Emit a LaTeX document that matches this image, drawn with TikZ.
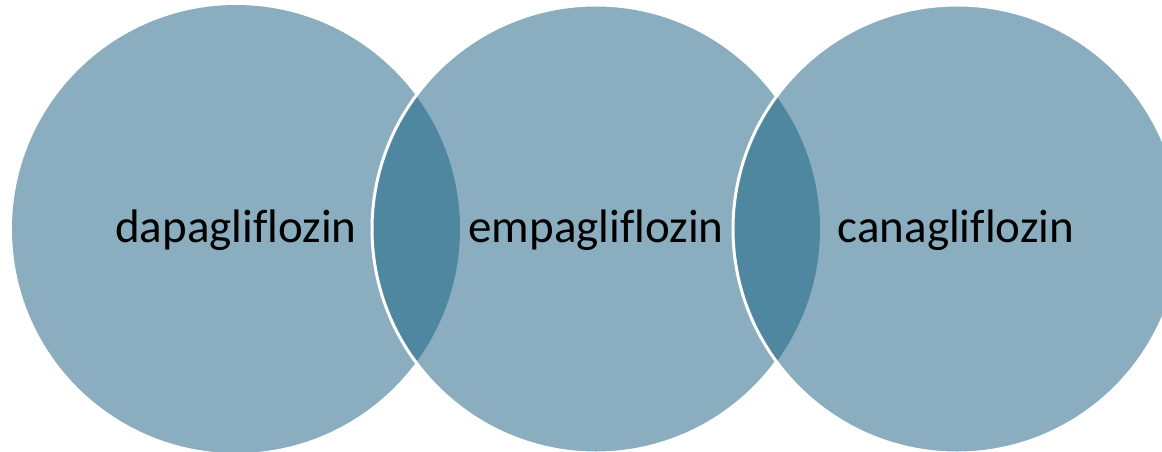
\documentclass[tikz,border=0pt]{standalone}
\usepackage{fontspec}
\setmainfont{Carlito}[Ligatures=NoCommon]
\definecolor{ringfill}{RGB}{138,174,192}
\definecolor{lensfill}{RGB}{79,134,160}
\tikzset{
  label/.style={anchor=base, text=black, inner sep=0pt, font=\fontsize{47}{56}\selectfont},
  ringedge/.style={draw=white, line width=3pt}
}
\begin{document}
\begin{tikzpicture}[x=1pt,y=-1pt]
\useasboundingbox (0,0) rectangle (1162,451);
\clip (0,0) rectangle (1162,451);
\def\R{224}
\coordinate (c1) at (236,229);
\coordinate (c2) at (596,229);
\coordinate (c3) at (957,229);
% first circle
\fill[ringfill] (c1) circle (\R);
% second circle with its overlap
\fill[ringfill] (c2) circle (\R);
\begin{scope}
  \clip (c1) circle (\R);
  \fill[lensfill] (c2) circle (\R);
\end{scope}
\draw[ringedge] (c2) circle (\R);
% third circle with its overlap
\fill[ringfill] (c3) circle (\R);
\begin{scope}
  \clip (c2) circle (\R);
  \fill[lensfill] (c3) circle (\R);
\end{scope}
\draw[ringedge] (c3) circle (\R);
% labels
\node[label] (t1) at (236,242) {dapagliflozin};
\node[label] (t2) at (596,242) {empagliflozin};
\node[label] (t3) at (956,242) {canagliflozin};
\end{tikzpicture}
\end{document}
